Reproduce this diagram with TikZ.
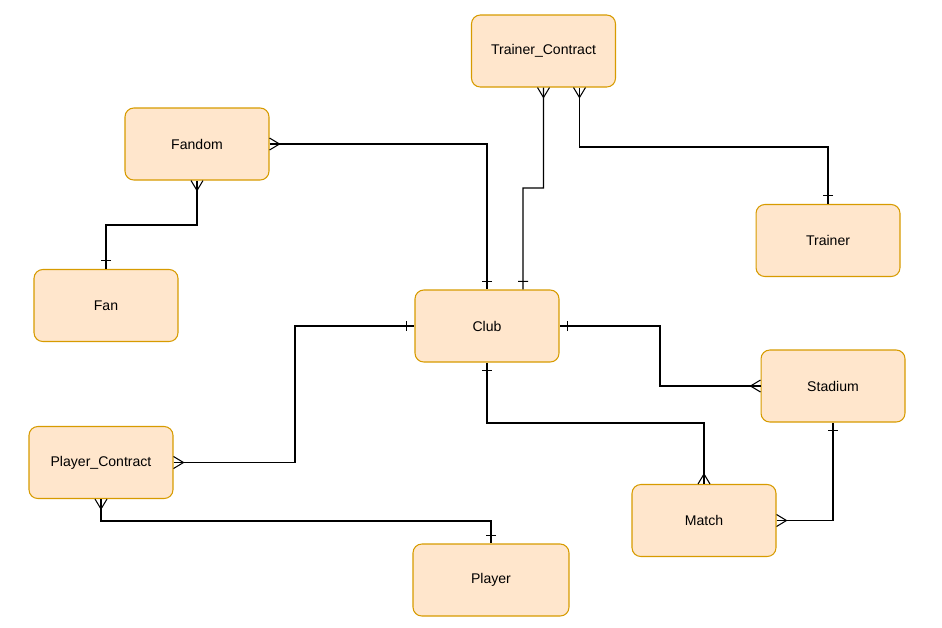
\documentclass[tikz,border=0pt]{standalone}
\usepackage{fontspec}
\setmainfont{Liberation Sans}
\usetikzlibrary{positioning, decorations.markings}

\begin{document}
\begin{tikzpicture}[
    x=0.02cm, y=-0.02cm,
    font=\fontsize{8}{10}\selectfont,
    entity/.style={rectangle, rounded corners=5pt, draw=orange!70!black!80, fill=orange!20,
                line width=0.6pt, minimum width=2.88cm, minimum height=1.44cm,
                text centered},
    rel/.style={line width=0.6pt, postaction={decorate, decoration={markings,
                mark=at position 0 with {\draw[line width=0.6pt] (0,0.12cm) -- (0.2cm,0) -- (0,-0.12cm);},
                mark=at position -0.1pt with {\draw[line width=0.6pt] (-0.16cm,0.1cm) -- (-0.16cm,-0.1cm);}}}}
  ]
  \useasboundingbox (0,0) rectangle (942,627);
  \definecolor{boxfill}{HTML}{FFE6CC}
  \definecolor{boxline}{HTML}{D79B00}
  \tikzset{entity/.append style={draw=boxline, fill=boxfill}}

  %% ---- Entities ----
  \node[entity] (tcon)    at (543.5,51)  {Trainer\_Contract};
  \node[entity] (fandom)  at (197,144)   {Fandom};
  \node[entity] (trainer) at (828,240.5) {Trainer};
  \node[entity] (fan)     at (106,305.5) {Fan};
  \node[entity] (club)    at (487,326)   {Club};
  \node[entity] (stadium) at (833,386)   {Stadium};
  \node[entity] (pcon)    at (101,462.5) {Player\_Contract};
  \node[entity] (match)   at (704,520.5) {Match};
  \node[entity, minimum width=3.12cm] (player) at (491,580) {Player};

  %% ---- Relationships (many side first, one side last) ----
  \draw[rel] (fandom.east) -| (club.north);
  \draw[rel] (tcon.south) |- (523,188) -- ([xshift=0.72cm]club.north);
  \draw[rel] ([xshift=0.72cm]tcon.south) |- (828,147) -- (trainer.north);
  \draw[rel] (fandom.south) |- (106,225) -- (fan.north);
  \draw[rel] (pcon.east) -- (295,462.5) |- (club.west);
  \draw[rel] (stadium.west) -- (660,386) |- (club.east);
  \draw[rel] (match.north) |- (600,423) -| (club.south);
  \draw[rel] (match.east) -| (stadium.south);
  \draw[rel] (pcon.south) |- (300,521) -| (player.north);

\end{tikzpicture}
\end{document}
